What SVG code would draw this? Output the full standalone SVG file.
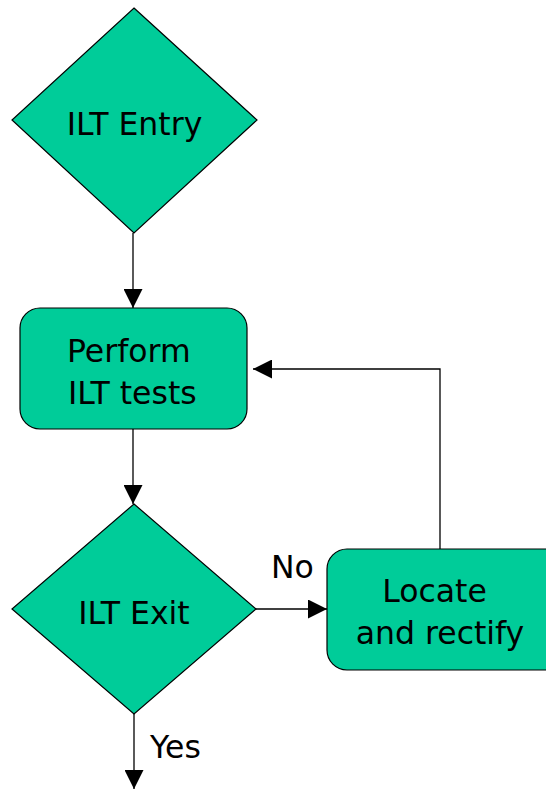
<svg xmlns="http://www.w3.org/2000/svg" width="546" height="789" viewBox="0 0 546 789">
<style>
.shape{fill:#00CC99;stroke:#000;stroke-width:1.2}
.lbl{font-family:"DejaVu Sans","Liberation Sans",sans-serif;font-size:31.5px;fill:#000}
.conn{fill:none;stroke:#000;stroke-width:1.3}
</style>
<defs>
<marker id="arr" markerWidth="19" markerHeight="19" viewBox="0 0 19 19" refX="19" refY="9.5" orient="auto" markerUnits="userSpaceOnUse">
<path d="M0,0 L19,9.5 L0,19 Z" fill="#000"/>
</marker>
</defs>
<rect width="546" height="789" fill="#fff"/>
<g id="connectors">
<line class="conn" x1="133" y1="233" x2="133" y2="308" marker-end="url(#arr)"/>
<line class="conn" x1="133" y1="429" x2="133" y2="504" marker-end="url(#arr)"/>
<line class="conn" x1="256" y1="609" x2="327" y2="609" marker-end="url(#arr)"/>
<polyline class="conn" points="440,549 440,369 253,369" marker-end="url(#arr)"/>
<line class="conn" x1="134" y1="714" x2="134" y2="789" marker-end="url(#arr)"/>
<text class="lbl" x="271" y="578">No</text>
<text class="lbl" x="150" y="758">Yes</text>
</g>
<g id="ilt-entry">
<polygon class="shape" points="134,8 257,120 134,233 12,120"/>
<text class="lbl" x="134.5" y="135" text-anchor="middle">ILT Entry</text>
</g>
<g id="perform-tests">
<rect class="shape" x="20" y="308" width="227" height="121" rx="20" ry="20"/>
<text class="lbl" x="67" y="362">Perform</text>
<text class="lbl" x="68" y="404">ILT tests</text>
</g>
<g id="ilt-exit">
<polygon class="shape" points="134,504 256,609 134,714 12,609"/>
<text class="lbl" x="134" y="624" text-anchor="middle">ILT Exit</text>
</g>
<g id="locate-rectify">
<rect class="shape" x="327" y="549" width="240" height="121" rx="20" ry="20"/>
<text class="lbl" x="434.5" y="602" text-anchor="middle">Locate</text>
<text class="lbl" x="440" y="644" text-anchor="middle">and rectify</text>
</g>
</svg>
